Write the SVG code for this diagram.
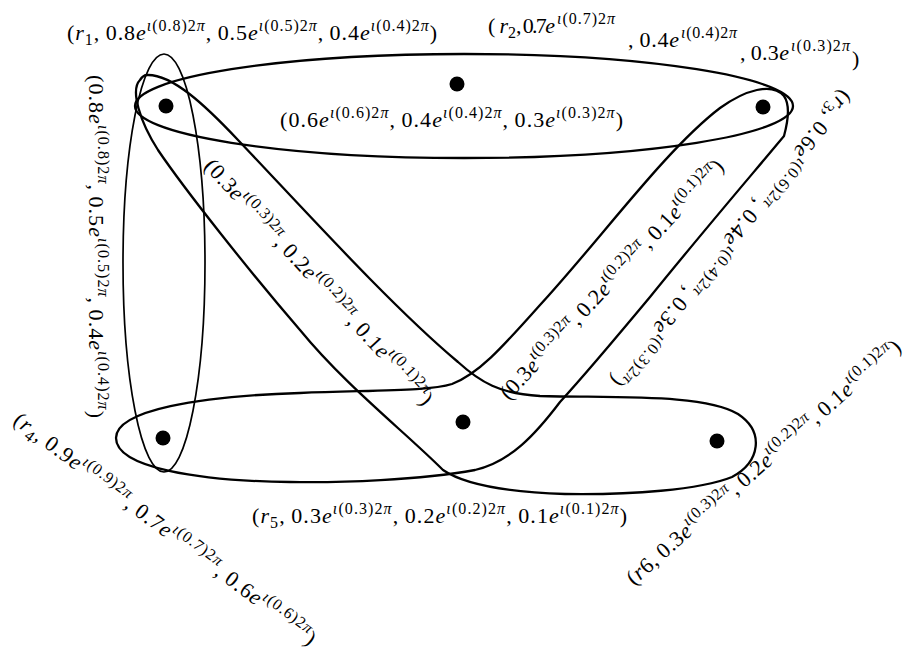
<svg xmlns="http://www.w3.org/2000/svg" width="907" height="649" viewBox="0 0 907 649">
<style>
.e{fill:none;stroke:#000;stroke-width:2.3;stroke-linejoin:round}
.thin{stroke-width:1.7}
.dot{fill:#000}
.t{font-family:"Liberation Serif","DejaVu Serif",serif;font-size:22px;fill:#000}
.s{font-size:16px}
.i{font-style:italic}
</style>
<rect width="907" height="649" fill="#fff"/>
<g id="hyperedges">
<ellipse id="edge-top" class="e" cx="464" cy="106" rx="329" ry="52"/>
<ellipse id="edge-left" class="e thin" cx="164" cy="263" rx="41" ry="209"/>
<path id="edge-r1-r5-r6" class="e" d="M147,75 C172,74 205,105 238,140 C300,205 390,305 458,362 C480,382 500,394 540,396 C620,398 705,394 738,414 C765,432 760,462 732,477 C700,490 630,495 565,494 C505,492 465,485 443,470 C405,432 345,385 300,330 C250,272 185,190 158,150 C140,122 130,90 140,80 C142,77 145,75 147,75 Z"/>
<path id="edge-r4-r5-r2" class="e" d="M116,438 C116,410 200,396 300,393 C380,390 430,391 452,384 C478,374 500,350 540,305 C600,240 665,150 720,108 C745,90 772,82 784,96 C791,106 787,125 784,136 C760,165 700,235 650,297 C610,345 582,378 560,402 C535,435 510,462 475,470 C420,480 340,483 290,482 C200,481 116,468 116,438 Z"/>
<text id="label-top" class="t" x="280" y="127" textLength="343" lengthAdjust="spacing">(0.6<tspan class="i">e</tspan><tspan class="s" dy="-9"><tspan class="i">ι</tspan>(0.6)2<tspan class="i">π</tspan></tspan><tspan dy="9">,&#8201;0.4</tspan><tspan class="i">e</tspan><tspan class="s" dy="-9"><tspan class="i">ι</tspan>(0.4)2<tspan class="i">π</tspan></tspan><tspan dy="9">,&#8201;0.3</tspan><tspan class="i">e</tspan><tspan class="s" dy="-9"><tspan class="i">ι</tspan>(0.3)2<tspan class="i">π</tspan></tspan><tspan dy="9">)</tspan></text>
<text id="label-left" class="t" x="0" y="0" transform="translate(89,75) rotate(90)" textLength="343" lengthAdjust="spacing">(0.8<tspan class="i">e</tspan><tspan class="s" dy="-9"><tspan class="i">ι</tspan>(0.8)2<tspan class="i">π</tspan></tspan><tspan dy="9">,&#8201;0.5</tspan><tspan class="i">e</tspan><tspan class="s" dy="-9"><tspan class="i">ι</tspan>(0.5)2<tspan class="i">π</tspan></tspan><tspan dy="9">,&#8201;0.4</tspan><tspan class="i">e</tspan><tspan class="s" dy="-9"><tspan class="i">ι</tspan>(0.4)2<tspan class="i">π</tspan></tspan><tspan dy="9">)</tspan></text>
<text id="label-bandB" class="t" x="0" y="0" transform="translate(203,167) rotate(47.3)" textLength="326" lengthAdjust="spacing">(0.3<tspan class="i">e</tspan><tspan class="s" dy="-9"><tspan class="i">ι</tspan>(0.3)2<tspan class="i">π</tspan></tspan><tspan dy="9">,&#8201;0.2</tspan><tspan class="i">e</tspan><tspan class="s" dy="-9"><tspan class="i">ι</tspan>(0.2)2<tspan class="i">π</tspan></tspan><tspan dy="9">,&#8201;0.1</tspan><tspan class="i">e</tspan><tspan class="s" dy="-9"><tspan class="i">ι</tspan>(0.1)2<tspan class="i">π</tspan></tspan><tspan dy="9">)</tspan></text>
<text id="label-bandA" class="t" x="0" y="0" transform="translate(509,401) rotate(-47.2)" textLength="318" lengthAdjust="spacing">(0.3<tspan class="i">e</tspan><tspan class="s" dy="-9"><tspan class="i">ι</tspan>(0.3)2<tspan class="i">π</tspan></tspan><tspan dy="9">,&#8201;0.2</tspan><tspan class="i">e</tspan><tspan class="s" dy="-9"><tspan class="i">ι</tspan>(0.2)2<tspan class="i">π</tspan></tspan><tspan dy="9">,&#8201;0.1</tspan><tspan class="i">e</tspan><tspan class="s" dy="-9"><tspan class="i">ι</tspan>(0.1)2<tspan class="i">π</tspan></tspan><tspan dy="9">)</tspan></text>
</g>
<g id="node-r1">
<circle class="dot" cx="166" cy="106" r="7.5"/>
<text class="t" x="67" y="40" textLength="370" lengthAdjust="spacing">(<tspan class="i">r</tspan><tspan class="s" dy="5">1</tspan><tspan dy="-5">,&#8201;0.8</tspan><tspan class="i">e</tspan><tspan class="s" dy="-9"><tspan class="i">ι</tspan>(0.8)2<tspan class="i">π</tspan></tspan><tspan dy="9">,&#8201;0.5</tspan><tspan class="i">e</tspan><tspan class="s" dy="-9"><tspan class="i">ι</tspan>(0.5)2<tspan class="i">π</tspan></tspan><tspan dy="9">,&#8201;0.4</tspan><tspan class="i">e</tspan><tspan class="s" dy="-9"><tspan class="i">ι</tspan>(0.4)2<tspan class="i">π</tspan></tspan><tspan dy="9">)</tspan></text>
</g>
<g id="node-r0">
<circle class="dot" cx="457" cy="84" r="7.5"/>
</g>
<g id="node-r2">
<circle class="dot" cx="763" cy="107" r="7.5"/>
<text class="t" x="488" y="33" textLength="20" lengthAdjust="spacing">(<tspan class="i">r</tspan></text>
<text class="t s" x="508" y="38">2</text>
<text class="t" x="516" y="33" textLength="39" lengthAdjust="spacing">,&#8201;0.7<tspan class="i">e</tspan></text>
<text class="t s" x="557" y="24" textLength="58" lengthAdjust="spacing"><tspan class="i">ι</tspan>(0.7)2<tspan class="i">π</tspan></text>
<text class="t" x="628" y="47" textLength="51" lengthAdjust="spacing">,&#8201;0.4<tspan class="i">e</tspan></text>
<text class="t s" x="681" y="38" textLength="56" lengthAdjust="spacing"><tspan class="i">ι</tspan>(0.4)2<tspan class="i">π</tspan></text>
<text class="t" x="740" y="60" textLength="49" lengthAdjust="spacing">,&#8201;0.3<tspan class="i">e</tspan></text>
<text class="t s" x="791" y="51" textLength="59" lengthAdjust="spacing"><tspan class="i">ι</tspan>(0.3)2<tspan class="i">π</tspan></text>
<text class="t" x="852" y="66">)</text>
</g>
<g id="node-r3">
<text class="t" x="0" y="0" transform="translate(842,89) rotate(128.6)" textLength="372" lengthAdjust="spacing">(<tspan class="i">r</tspan><tspan class="s" dy="5">3</tspan><tspan dy="-5">,&#8201;0.6</tspan><tspan class="i">e</tspan><tspan class="s" dy="-9"><tspan class="i">ι</tspan>(0.6)2<tspan class="i">π</tspan></tspan><tspan dy="9">,&#8201;0.4</tspan><tspan class="i">e</tspan><tspan class="s" dy="-9"><tspan class="i">ι</tspan>(0.4)2<tspan class="i">π</tspan></tspan><tspan dy="9">,&#8201;0.3</tspan><tspan class="i">e</tspan><tspan class="s" dy="-9"><tspan class="i">ι</tspan>(0.3)2<tspan class="i">π</tspan></tspan><tspan dy="9">)</tspan></text>
</g>
<g id="node-r4">
<circle class="dot" cx="163" cy="438" r="7.5"/>
<text class="t" x="0" y="0" transform="translate(12,423) rotate(36.9)" textLength="372" lengthAdjust="spacing">(<tspan class="i">r</tspan><tspan class="s" dy="5">4</tspan><tspan dy="-5">,&#8201;0.9</tspan><tspan class="i">e</tspan><tspan class="s" dy="-9"><tspan class="i">ι</tspan>(0.9)2<tspan class="i">π</tspan></tspan><tspan dy="9">,&#8201;0.7</tspan><tspan class="i">e</tspan><tspan class="s" dy="-9"><tspan class="i">ι</tspan>(0.7)2<tspan class="i">π</tspan></tspan><tspan dy="9">,&#8201;0.6</tspan><tspan class="i">e</tspan><tspan class="s" dy="-9"><tspan class="i">ι</tspan>(0.6)2<tspan class="i">π</tspan></tspan><tspan dy="9">)</tspan></text>
</g>
<g id="node-r5">
<circle class="dot" cx="463" cy="422" r="7.5"/>
<text class="t" x="252" y="523" textLength="375" lengthAdjust="spacing">(<tspan class="i">r</tspan><tspan class="s" dy="5">5</tspan><tspan dy="-5">,&#8201;0.3</tspan><tspan class="i">e</tspan><tspan class="s" dy="-9"><tspan class="i">ι</tspan>(0.3)2<tspan class="i">π</tspan></tspan><tspan dy="9">,&#8201;0.2</tspan><tspan class="i">e</tspan><tspan class="s" dy="-9"><tspan class="i">ι</tspan>(0.2)2<tspan class="i">π</tspan></tspan><tspan dy="9">,&#8201;0.1</tspan><tspan class="i">e</tspan><tspan class="s" dy="-9"><tspan class="i">ι</tspan>(0.1)2<tspan class="i">π</tspan></tspan><tspan dy="9">)</tspan></text>
</g>
<g id="node-r6">
<circle class="dot" cx="717" cy="441" r="7.5"/>
<text class="t" x="0" y="0" transform="translate(634,586) rotate(-41.4)" textLength="358" lengthAdjust="spacing">(<tspan class="i">r</tspan>6,&#8201;0.3<tspan class="i">e</tspan><tspan class="s" dy="-9"><tspan class="i">ι</tspan>(0.3)2<tspan class="i">π</tspan></tspan><tspan dy="9">,&#8201;0.2</tspan><tspan class="i">e</tspan><tspan class="s" dy="-9"><tspan class="i">ι</tspan>(0.2)2<tspan class="i">π</tspan></tspan><tspan dy="9">,&#8201;0.1</tspan><tspan class="i">e</tspan><tspan class="s" dy="-9"><tspan class="i">ι</tspan>(0.1)2<tspan class="i">π</tspan></tspan><tspan dy="9">)</tspan></text>
</g>
</svg>
